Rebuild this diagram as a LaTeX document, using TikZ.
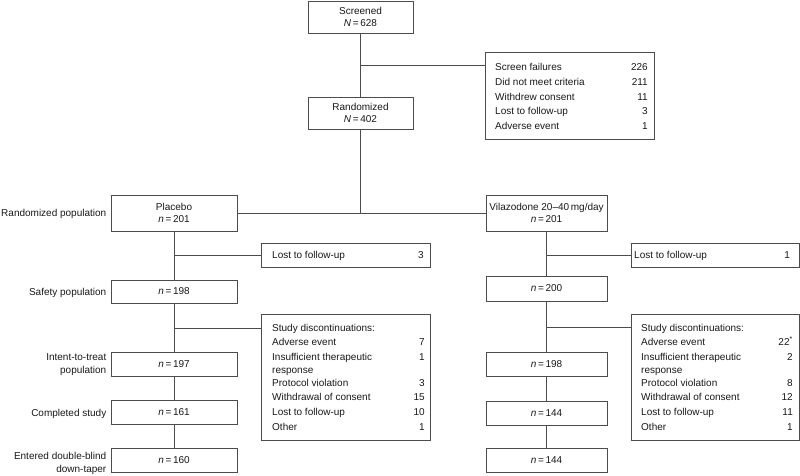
\documentclass[tikz,border=0pt]{standalone}
\usepackage{fontspec}
\setmainfont{Liberation Sans}
\definecolor{lc}{gray}{0.3}
\definecolor{tc}{gray}{0.1}
\newcommand\nv[2]{{\itshape #1}\,=\,#2}
\begin{document}
\begin{tikzpicture}[x=1pt,y=-1pt,font=\fontsize{10}{12.5}\selectfont,
  box/.style={draw=lc, line width=0.75pt, inner sep=0pt, align=center, text=tc},
  conn/.style={draw=lc, line width=0.75pt},
  lbl/.style={inner sep=0pt, anchor=base east, text=tc},
  rowl/.style={inner sep=0pt, anchor=base west, text=tc},
  rowr/.style={inner sep=0pt, anchor=base east, text=tc}]
\fill[white] (0,0) rectangle (800,475);
\useasboundingbox (0,0) rectangle (800,475);

% top
\node[box, minimum width=105pt, minimum height=32pt] (scr) at (360.5,17) {Screened\\\nv{N}{628}};
\node[box, minimum width=105pt, minimum height=32pt] (rnd) at (360.5,113) {Randomized\\\nv{N}{402}};
\node[box, minimum width=169pt, minimum height=87pt] (sf) at (569.5,95.5) {};
\foreach [count=\i] \t/\yy in {Screen failures/70.5, Did not meet criteria/85, Withdrew consent/100, Lost to follow-up/114.5, Adverse event/129.5}
  \node[rowl] (sft\i) at (495,\yy) {\t};
\foreach [count=\i] \t/\yy in {226/70.5, 211/85, 11/100, 3/114.5, 1/129.5}
  \node[rowr] (sfn\i) at (648,\yy) {\t};

% arms
\node[box, minimum width=126pt, minimum height=36pt] (pla) at (174,213) {Placebo\\\nv{n}{201}};
\node[box, minimum width=121pt, minimum height=36pt] (vil) at (546.5,213) {Vilazodone 20–40\,mg/day\\\nv{n}{201}};

% left labels
\node[lbl] (l1) at (106.5,216.5) {Randomized population};
\node[lbl] (l2) at (106.5,295.5) {Safety population};
\node[lbl] (l3a) at (106.5,360.5) {Intent-to-treat};
\node[lbl] (l3b) at (106.5,373.5) {population};
\node[lbl] (l4) at (106.5,416.5) {Completed study};
\node[lbl] (l5a) at (106.5,459.5) {Entered double-blind};
\node[lbl] (l5b) at (106.5,472.5) {down-taper};

% placebo column
\node[box, minimum width=126pt, minimum height=23pt] (saf) at (174,291.5) {\nv{n}{198}};
\node[box, minimum width=126pt, minimum height=24pt] (itt) at (174,364) {\nv{n}{197}};
\node[box, minimum width=126pt, minimum height=24pt] (cmp) at (174,412) {\nv{n}{161}};
\node[box, minimum width=126pt, minimum height=24pt] (ent) at (174,460) {\nv{n}{160}};
\node[box, minimum width=169pt, minimum height=24pt] (lostl) at (345.5,255) {};
\node[rowl] (lostlt) at (272,258.5) {Lost to follow-up};
\node[rowr] (lostln) at (424,258.5) {3};
\node[box, minimum width=169pt, minimum height=126pt] (discl) at (345.5,377) {};
\foreach [count=\i] \t/\yy in {Study discontinuations:/331.5, Adverse event/345.5, Insufficient therapeutic/360.5, response/373.5, Protocol violation/386.5, Withdrawal of consent/400.5, Lost to follow-up/415.5, Other/430.5}
  \node[rowl] (dlt\i) at (272,\yy) {\t};
\foreach [count=\i] \t/\yy in {7/345.5, 1/360.5, 3/386.5, 15/400.5, 10/415.5, 1/430.5}
  \node[rowr] (dln\i) at (425,\yy) {\t};

% vilazodone column
\node[box, minimum width=121pt, minimum height=25pt] (v200) at (546.5,288.5) {\nv{n}{200}};
\node[box, minimum width=121pt, minimum height=24pt] (v198) at (546.5,364.5) {\nv{n}{198}};
\node[box, minimum width=121pt, minimum height=24pt] (v144a) at (546.5,413) {\nv{n}{144}};
\node[box, minimum width=121pt, minimum height=24pt] (v144b) at (546.5,460) {\nv{n}{144}};
\node[box, minimum width=168pt, minimum height=24pt] (lostr) at (715,255) {};
\node[rowl] (lostrt) at (634,258.5) {Lost to follow-up};
\node[rowr] (lostrn) at (790,258.5) {1};
\node[box, minimum width=168pt, minimum height=126pt] (discr) at (715,377) {};
\foreach [count=\i] \t/\yy in {Study discontinuations:/331.5, Adverse event/345.5, Insufficient therapeutic/360.5, response/373.5, Protocol violation/386.5, Withdrawal of consent/400.5, Lost to follow-up/415.5, Other/430.5}
  \node[rowl] (drt\i) at (641,\yy) {\t};
\foreach [count=\i] \t/\yy in {22\textsuperscript{*}/345.5, 2/360.5, 8/386.5, 12/400.5, 11/415.5, 1/430.5}
  \node[rowr] (drn\i) at (793,\yy) {\t};

% connectors
\draw[conn] (scr) -- (rnd);
\coordinate (j1) at (360.5,65);
\draw[conn] (j1) -- (j1 -| sf.west);
\coordinate (j2) at (rnd.south |- pla.east);
\draw[conn] (rnd.south) -- (j2);
\draw[conn] (pla.east) -- (vil.west);

\draw[conn] (pla) -- (saf);
\coordinate (j3) at (174,255);
\draw[conn] (j3) -- (lostl.west);
\draw[conn] (saf) -- (itt);
\coordinate (j4) at (174,328);
\draw[conn] (j4) -- (j4 -| discl.west);
\draw[conn] (itt) -- (cmp);
\draw[conn] (cmp) -- (ent);

\draw[conn] (vil) -- (v200);
\coordinate (j5) at (546.5,255);
\draw[conn] (j5) -- (lostr.west);
\draw[conn] (v200) -- (v198);
\coordinate (j6) at (546.5,327);
\draw[conn] (j6) -- (j6 -| discr.west);
\draw[conn] (v198) -- (v144a);
\draw[conn] (v144a) -- (v144b);
\end{tikzpicture}
\end{document}
